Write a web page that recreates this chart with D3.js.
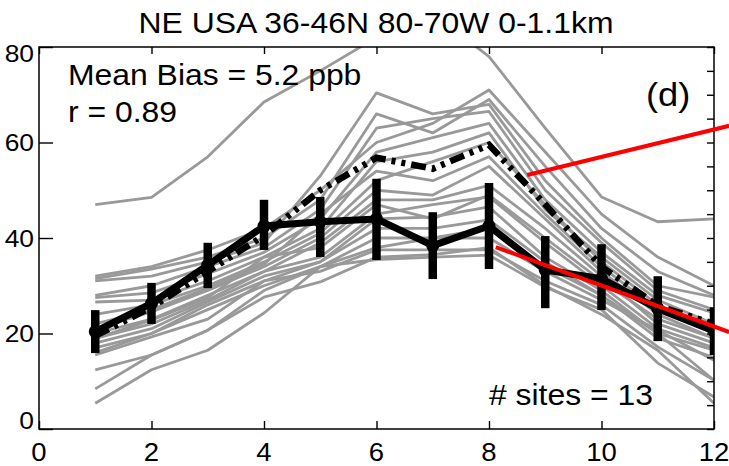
<!DOCTYPE html>
<html>
<head>
<meta charset="utf-8">
<script src="https://cdn.jsdelivr.net/npm/d3@7"></script>
<style>
  body { margin: 0; background: #fff; }
  text { font-family: "Liberation Sans", Arial, Helvetica, sans-serif; fill: #000; }
</style>
</head>
<body>
<div id="chart"></div>
<script>
// months
var months = [1, 2, 3, 4, 5, 6, 7, 8, 9, 10, 11, 12];

// observed mean and spread (black line with error bars)
var obsMean = [20.4, 26.3, 34.3, 42.5, 43.4, 44.0, 38.4, 42.5, 33.3, 31.5, 25.2, 20.5];
var obsLow  = [15.9, 22.0, 29.5, 37.5, 36.0, 35.4, 31.4, 33.5, 25.3, 24.9, 18.4, 15.5];
var obsHigh = [24.9, 30.6, 39.0, 48.0, 48.6, 52.4, 45.4, 51.5, 40.4, 38.7, 32.0, 25.5];

// model mean (dashed black)
var modelMean = [19.5, 25.5, 33.0, 40.5, 50.0, 56.8, 54.5, 59.5, 47.0, 34.0, 25.8, 22.0];

// individual model lines (grey)
var models = [
  [47, 48.5, 57, 68.5, 75, 82, 87, 78, 63, 48.6, 43.4, 44],
  [32, 34, 37.5, 42, 50, 60, 64, 71, 58, 45, 36, 30],
  [31.5, 33.5, 36, 40, 48, 66, 62, 69, 55, 42, 33, 28],
  [31, 32, 35, 39, 53, 70.4, 66, 68, 52, 40, 30, 27.6],
  [28, 30, 34, 38, 46, 63, 65, 66.5, 50, 39, 29, 25],
  [27.5, 28.5, 32.5, 37, 44, 58, 61, 64, 48, 37, 28, 24.3],
  [26.6, 27, 31, 36, 42, 56, 58, 62, 46, 36, 27, 22],
  [24, 26, 30, 35, 41, 52, 56, 60, 47, 35, 26, 21],
  [22, 25, 29.5, 34.5, 45, 54, 52, 57, 45, 34, 25, 20],
  [21, 24.5, 29, 34, 40, 50, 49, 55, 44, 33, 24, 19],
  [20, 23, 28, 33, 39, 48, 48, 51, 42, 32, 22, 18],
  [19, 22.8, 27.5, 36, 38, 47, 44, 49, 40, 31, 23, 19],
  [19, 22, 27, 33, 36, 45, 47, 48.6, 39, 30, 21, 17],
  [18, 21, 26.6, 32, 35, 44, 44.4, 46.5, 36, 29, 20, 16.5],
  [17, 20, 26, 31, 35, 42, 42, 43.8, 35, 28, 19, 15],
  [16, 20, 25, 30, 34, 40, 40, 40, 33, 27, 20.7, 14.4],
  [15.5, 19.3, 23, 31, 33, 37.5, 37.5, 37.5, 31, 26, 17.2, 10.2],
  [12.4, 15.5, 20.7, 29, 34, 35.5, 36, 36.4, 29.7, 25, 13.8, 6.7],
  [8.4, 15.5, 20.7, 27.6, 30.8, 36, 36.5, 38, 30, 24, 16.5, 5.4],
  [5.4, 12.4, 16.5, 24.3, 34, 38, 40, 42, 34, 28, 20, 10.2]
];

// red annotation segments [x1, y1, x2, y2] in data units
var redSegs = [
  [8.68, 53.2, 12.27, 63.5],
  [8.12, 38.1, 12.27, 20.3]
];

var xTicks = [0, 2, 4, 6, 8, 10, 12];
var yTicks = [0, 20, 40, 60, 80];
var xMinor = d3.range(0, 12.01, 0.5);
var yMinor = d3.range(0, 80.01, 5);

var title = "NE USA 36-46N 80-70W 0-1.1km";
var notes = ["Mean Bias = 5.2 ppb", "r = 0.89"];
var panel = "(d)";
var sites = "# sites = 13";

var W = 729, H = 466;
var margin = {left: 39, right: 714, top: 47, bottom: 429};
var stretch = 1.1;

var x = d3.scaleLinear().domain([0, 12]).range([margin.left, margin.right]);
var y = d3.scaleLinear().domain([0, 80]).range([margin.bottom, margin.top]);

var svg = d3.select("#chart").append("svg")
    .attr("width", W)
    .attr("height", H);

svg.append("clipPath").attr("id", "plotclip")
    .append("rect")
    .attr("x", margin.left).attr("y", margin.top)
    .attr("width", margin.right - margin.left).attr("height", margin.bottom - margin.top);

var line = d3.line()
    .x(function(d, i){ return x(months[i]); })
    .y(function(d){ return y(d); });

var plot = svg.append("g").attr("clip-path", "url(#plotclip)");

// grey model lines
plot.selectAll("path.model")
    .data(models)
    .enter()
    .append("path")
    .attr("class", "model")
    .attr("d", line)
    .attr("fill", "none")
    .attr("stroke", "#999")
    .attr("stroke-width", 2.8)
    .attr("stroke-linejoin", "round");

// model mean, dash dot dot
plot.append("path")
    .attr("d", line(modelMean))
    .attr("fill", "none")
    .attr("stroke", "#000")
    .attr("stroke-width", 6.5)
    .attr("stroke-dasharray", "15,6,4,6,4,6");

// observed error bars
plot.selectAll("line.err")
    .data(months)
    .enter()
    .append("line")
    .attr("class", "err")
    .attr("x1", function(d){ return x(d); })
    .attr("x2", function(d){ return x(d); })
    .attr("y1", function(d, i){ return y(obsLow[i]); })
    .attr("y2", function(d, i){ return y(obsHigh[i]); })
    .attr("stroke", "#000")
    .attr("stroke-width", 8.5);

// observed mean line
plot.append("path")
    .attr("d", line(obsMean))
    .attr("fill", "none")
    .attr("stroke", "#000")
    .attr("stroke-width", 7)
    .attr("stroke-linejoin", "round");

plot.selectAll("circle.obs")
    .data(obsMean)
    .enter()
    .append("circle")
    .attr("class", "obs")
    .attr("cx", function(d, i){ return x(months[i]); })
    .attr("cy", function(d){ return y(d); })
    .attr("r", 6.5)
    .attr("fill", "#000");

// axes: major and minor ticks pointing inward
function noLabel(){ return ""; }

var gBottom = svg.append("g").attr("transform", "translate(0," + margin.bottom + ")");
gBottom.call(d3.axisBottom(x).tickValues(xMinor).tickSize(-4).tickFormat(noLabel));
gBottom.call(d3.axisBottom(x).tickValues(xTicks).tickSize(-8).tickFormat(noLabel));

var gTop = svg.append("g").attr("transform", "translate(0," + margin.top + ")");
gTop.call(d3.axisTop(x).tickValues(xMinor).tickSize(-4).tickFormat(noLabel));
gTop.call(d3.axisTop(x).tickValues(xTicks).tickSize(-7).tickFormat(noLabel));

var gLeft = svg.append("g").attr("transform", "translate(" + margin.left + ",0)");
gLeft.call(d3.axisLeft(y).tickValues(yMinor).tickSize(-7).tickFormat(noLabel));
gLeft.call(d3.axisLeft(y).tickValues(yTicks).tickSize(-14).tickFormat(noLabel));

var gRight = svg.append("g").attr("transform", "translate(" + margin.right + ",0)");
gRight.call(d3.axisRight(y).tickValues(yMinor).tickSize(-7).tickFormat(noLabel));

svg.selectAll(".domain").remove();
svg.selectAll(".tick line").attr("stroke", "#000").attr("stroke-width", 1.4);

svg.append("rect")
    .attr("x", margin.left).attr("y", margin.top)
    .attr("width", margin.right - margin.left).attr("height", margin.bottom - margin.top)
    .attr("fill", "none")
    .attr("stroke", "#000")
    .attr("stroke-width", 1.5);

// red annotation lines (drawn over frame, not clipped)
svg.selectAll("line.red")
    .data(redSegs)
    .enter()
    .append("line")
    .attr("class", "red")
    .attr("x1", function(d){ return x(d[0]); })
    .attr("y1", function(d){ return y(d[1]); })
    .attr("x2", function(d){ return x(d[2]); })
    .attr("y2", function(d){ return y(d[3]); })
    .attr("stroke", "#ff0000")
    .attr("stroke-width", 4);

// text helper, slightly wide glyphs like the original
function label(str, px, py, size, anchor){
    return svg.append("text")
        .attr("transform", "translate(" + px + "," + py + ") scale(" + stretch + ",1)")
        .attr("text-anchor", anchor || "start")
        .attr("font-size", size)
        .text(str);
}

// tick labels
xTicks.forEach(function(t){
    label(t, x(t), 461, 25, "middle");
});
yTicks.forEach(function(t){
    var off = 8.5;
    if (t == 0) off = 0;
    if (t == 80) off = 15;
    label(t, margin.left - 5, y(t) + off, 24, "end");
});

label(title, 376, 33, 29, "middle");
label(notes[0], 68, 85, 29);
label(notes[1], 68, 122, 29);
label(panel, 646, 106, 33);
label(sites, 489, 405, 29);
</script>
</body>
</html>
